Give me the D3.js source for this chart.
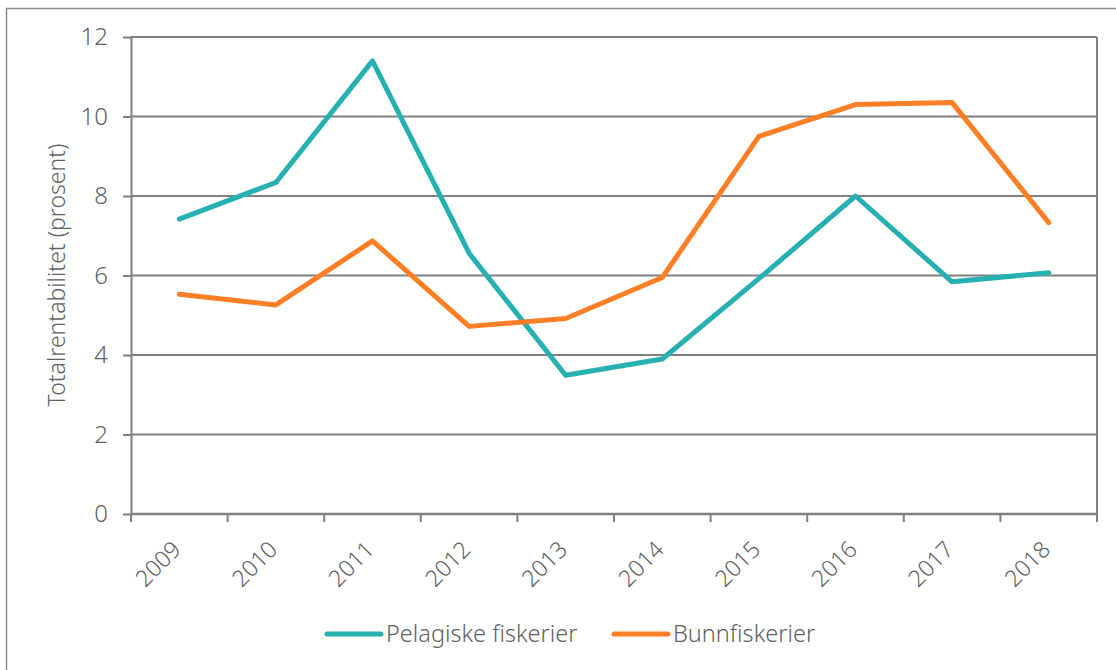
<!DOCTYPE html>
<head>
    <meta charset="UTF-8">
    <title>Totalrentabilitet</title>
    <style>
        body { margin: 0; background: #fff; }
        text { font-family: "Noto Sans", sans-serif; font-weight: 300; fill: #5f5f5f; }
    </style>
</head>
<body>
    <script src="https://d3js.org/d3.v7.min.js"></script>
    <script>
        // data
        let years = ["2009", "2010", "2011", "2012", "2013", "2014", "2015", "2016", "2017", "2018"]
        let pelagiske = [7.42, 8.34, 11.40, 6.56, 3.49, 3.90, 5.92, 8.00, 5.84, 6.07]
        let bunn = [5.53, 5.26, 6.87, 4.72, 4.92, 5.95, 9.50, 10.30, 10.35, 7.33]
        let yTicks = [0, 2, 4, 6, 8, 10, 12]
        let seriesNames = ["Pelagiske fiskerier", "Bunnfiskerier"]
        let colors = ["#27b0b1", "#ff7f27"]

        var width = 1116
        var height = 670
        var plot = { left: 131, right: 1097, top: 37, bottom: 514 }
        var gray = "#808080"

        var svg = d3.select("body").append("svg")
            .attr("width", width)
            .attr("height", height)

        // outer frame (runs off the right and bottom edge)
        svg.append("rect")
            .attr("x", 6.5).attr("y", 8.5)
            .attr("width", 1200).attr("height", 800)
            .attr("fill", "none")
            .attr("stroke", "#8c8c8c")
            .attr("stroke-width", 1.5)

        var x = d3.scaleBand().domain(years).range([plot.left, plot.right])
        var y = d3.scaleLinear().domain([0, 12]).range([plot.bottom, plot.top])

        // gridlines
        svg.append("g").selectAll("line")
            .data(yTicks)
            .enter().append("line")
            .attr("x1", plot.left).attr("x2", plot.right)
            .attr("y1", d => y(d)).attr("y2", d => y(d))
            .attr("stroke", gray).attr("stroke-width", 2)

        // right border of plot
        svg.append("line")
            .attr("x1", plot.right).attr("x2", plot.right)
            .attr("y1", plot.top).attr("y2", plot.bottom + 8)
            .attr("stroke", gray).attr("stroke-width", 2)

        // y axis
        var yAxis = svg.append("g")
            .attr("transform", "translate(" + plot.left + ",0)")
            .call(d3.axisLeft(y).tickValues(yTicks).tickSize(8).tickPadding(15).tickSizeOuter(0))
        yAxis.select(".domain").attr("stroke", gray).attr("stroke-width", 2)
        yAxis.selectAll(".tick line").attr("stroke", gray).attr("stroke-width", 2)
        yAxis.selectAll(".tick text")
            .attr("font-size", "24px")
            .attr("fill", "#5f5f5f")
            .style("font-family", "'Noto Sans', sans-serif")
            .style("font-weight", 300)

        // x axis: ticks at band edges
        svg.append("line")
            .attr("x1", plot.left).attr("x2", plot.right)
            .attr("y1", plot.bottom).attr("y2", plot.bottom)
            .attr("stroke", gray).attr("stroke-width", 2.5)
        svg.append("g").selectAll("line")
            .data(years)
            .enter().append("line")
            .attr("x1", d => x(d)).attr("x2", d => x(d))
            .attr("y1", plot.bottom).attr("y2", plot.bottom + 8)
            .attr("stroke", gray).attr("stroke-width", 2)

        svg.append("g").selectAll("text")
            .data(years)
            .enter().append("text")
            .attr("font-size", "23px")
            .attr("text-anchor", "end")
            .attr("transform", d => "translate(" + (x(d) + x.bandwidth() / 2 + 3) + ",551) rotate(-45)")
            .text(d => d)

        // y title
        svg.append("text")
            .attr("font-size", "23px")
            .attr("text-anchor", "middle")
            .attr("transform", "translate(65,275) rotate(-90)")
            .text("Totalrentabilitet (prosent)")

        // lines
        var line = d3.line()
            .x((d, i) => x(years[i]) + x.bandwidth() / 2)
            .y(d => y(d))

        svg.selectAll(".series")
            .data([pelagiske, bunn])
            .enter().append("path")
            .attr("class", "series")
            .attr("d", line)
            .attr("fill", "none")
            .attr("stroke", (d, i) => colors[i])
            .attr("stroke-width", 5)
            .attr("stroke-linejoin", "round")
            .attr("stroke-linecap", "round")

        // legend
        var legendX = [327, 614]
        var legend = svg.selectAll(".legend")
            .data(seriesNames)
            .enter().append("g")
            .attr("class", "legend")
            .attr("transform", (d, i) => "translate(" + legendX[i] + ",634)")
        legend.append("line")
            .attr("x1", 0).attr("x2", 54)
            .attr("stroke", (d, i) => colors[i])
            .attr("stroke-width", 5)
            .attr("stroke-linecap", "round")
        legend.append("text")
            .attr("x", 59).attr("y", 8)
            .attr("font-size", "23.5px")
            .text(d => d)
    </script>
</body>
</html>
